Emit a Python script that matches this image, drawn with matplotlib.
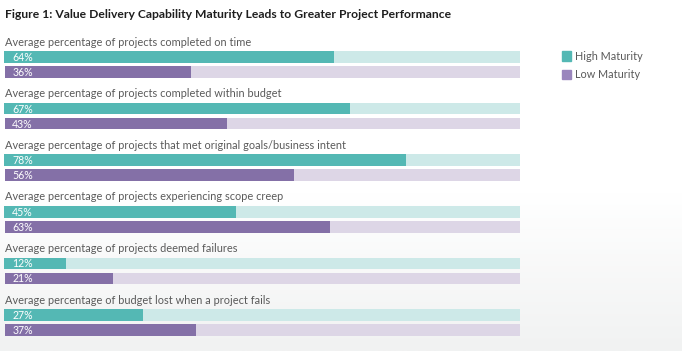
import numpy as np
import matplotlib
matplotlib.use('Agg')
import matplotlib.pyplot as plt
from matplotlib.patches import Rectangle

plt.rcParams['font.family'] = ['Lato', 'DejaVu Sans']

title = 'Figure 1: Value Delivery Capability Maturity Leads to Greater Project Performance'
questions = [
    'Average percentage of projects completed on time',
    'Average percentage of projects completed within budget',
    'Average percentage of projects that met original goals/business intent',
    'Average percentage of projects experiencing scope creep',
    'Average percentage of projects deemed failures',
    'Average percentage of budget lost when a project fails',
]
high_maturity = [64, 67, 78, 45, 12, 27]
low_maturity = [36, 43, 56, 63, 21, 37]
series_names = ['High Maturity', 'Low Maturity']

teal, teal_bg = '#54b8b4', '#cde9e8'
purple, purple_bg = '#8470a7', '#ddd6e6'
label_col = '#5a5a5a'

W, H = 682, 351
fig = plt.figure(figsize=(W / 100, H / 100), dpi=100)

# soft grey gradient in the lower part of the background
bg = fig.add_axes([0, 0, 1, 1], zorder=-5)
grad = np.linspace(0, 1, 256).reshape(-1, 1)
grad = np.clip((grad - 0.55) / 0.45, 0, 1)
cmap = matplotlib.colors.LinearSegmentedColormap.from_list('bg', ['#ffffff', '#f1f2f2'])
bg.imshow(grad, aspect='auto', cmap=cmap, extent=[0, 1, 0, 1], origin='upper')
bg.axis('off')

# bar axes: pixel-like vertical scale
ax = fig.add_axes([4 / W, 0, 516 / W, 1])
ax.set_xlim(0, 100)
ax.set_ylim(H, 0)
ax.axis('off')
ax.patch.set_alpha(0)

step = 51.6
bar_h = 11.5
for i, q in enumerate(questions):
    y_lab = 42 + i * step
    y_hi = 57 + i * step
    y_lo = 72 + i * step
    ax.text(0.2, y_lab, q, fontsize=7.9, color=label_col, va='center', ha='left')
    ax.barh(y_hi, 100, height=bar_h, color=teal_bg, left=0)
    ax.barh(y_hi, high_maturity[i], height=bar_h, color=teal, left=0)
    ax.barh(y_lo, 99.8, height=bar_h, color=purple_bg, left=0.2)
    ax.barh(y_lo, low_maturity[i], height=bar_h, color=purple, left=0.2)
    ax.text(1.6, y_hi + 0.5, f'{high_maturity[i]}%', fontsize=7.6, color='white', va='center')
    ax.text(1.6, y_lo + 0.5, f'{low_maturity[i]}%', fontsize=7.6, color='white', va='center')

fig.text(5 / W, 1 - 14 / H, title, fontsize=8.7, fontweight='bold', color='#1e1e1e',
         va='center', ha='left')

# legend
for j, (name, col) in enumerate(zip(series_names, ['#54b8b4', '#9a86bd'])):
    yc = 56 + j * 18
    fig.patches.append(Rectangle((562 / W, 1 - (yc + 4.5) / H), 9 / W, 9 / H,
                                 transform=fig.transFigure, color=col))
    fig.text(575 / W, 1 - yc / H, name, fontsize=7.8, color=label_col, va='center')

fig.savefig('out.png', dpi=100)
